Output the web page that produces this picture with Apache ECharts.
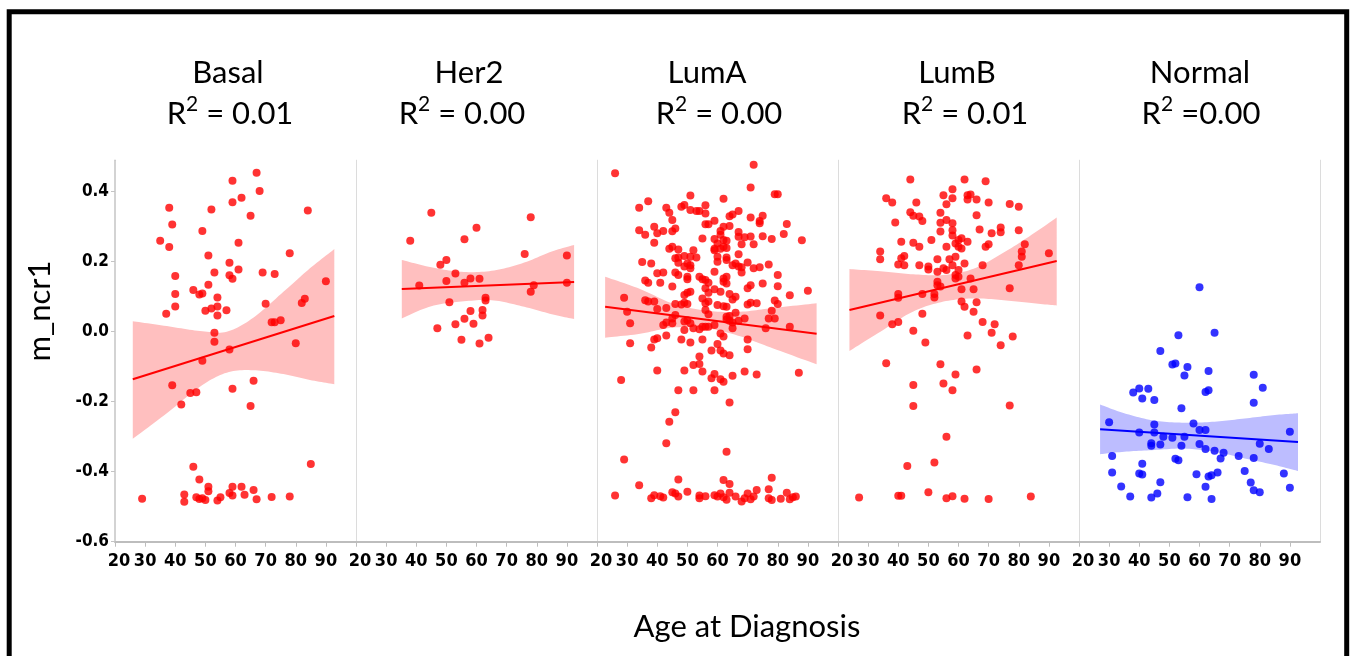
<!DOCTYPE html>
<html>
<head>
<meta charset="utf-8">
<script src="https://cdn.jsdelivr.net/npm/echarts@6/dist/echarts.min.js"></script>
<style>
  html, body { margin: 0; padding: 0; background: #ffffff; }
  #chart { width: 1353px; height: 656px; }
</style>
</head>
<body>
<div id="chart"></div>
<script>
// ---- m_ncr1 vs. age at diagnosis, one panel per PAM50 subtype ----

const subtypes = ['Basal', 'Her2', 'LumA', 'LumB', 'Normal'];
const rSquaredText = ['= 0.01', '= 0.00', '= 0.00', '= 0.01', '=0.00'];
const yTickValues = [-0.6, -0.4, -0.2, 0.0, 0.2, 0.4];

// [age, m_ncr1]
const basalPoints = [
  [67,0.454],[59,0.431],[62,0.383],[59,0.370],[68,0.402],[38,0.354],[52,0.349],[65,0.331],[84,0.346],
  [39,0.306],[49,0.288],[35,0.260],[38,0.242],[61,0.254],[51,0.218],[78,0.224],[58,0.197],[61,0.178],
  [53,0.169],[69,0.169],[73,0.165],[40,0.159],[58,0.161],[59,0.151],[90,0.144],[51,0.134],[46,0.119],
  [48,0.106],[49,0.109],[40,0.108],[54,0.098],[40,0.072],[54,0.072],[52,0.066],[50,0.060],[57,0.061],
  [54,0.046],[37,0.051],[70,0.080],[83,0.094],[82,0.082],[75,0.033],[72,0.027],[73,0.027],[53,-0.003],
  [53,-0.029],[80,-0.033],[58,-0.051],[49,-0.083],[39,-0.153],[66,-0.140],[59,-0.163],[45,-0.175],
  [47,-0.173],[42,-0.208],[65,-0.212],[46,-0.386],[85,-0.378],[48,-0.422],[51,-0.443],[51,-0.456],
  [59,-0.443],[62,-0.443],[66,-0.452],[43,-0.465],[63,-0.466],[58,-0.461],[59,-0.468],[29,-0.477],
  [43,-0.486],[47,-0.473],[48,-0.478],[49,-0.476],[50,-0.481],[54,-0.482],[55,-0.473],[67,-0.479],
  [72,-0.472],[78,-0.471]
];
const her2Points = [
  [45,0.340],[78,0.327],[38,0.260],[60,0.297],[56,0.264],[76,0.222],[90,0.218],[48,0.191],[50,0.205],
  [53,0.166],[58,0.152],[61,0.151],[50,0.145],[56,0.140],[41,0.132],[79,0.133],[78,0.114],[90,0.140],
  [63,0.097],[63,0.089],[51,0.084],[58,0.059],[62,0.062],[62,0.046],[56,0.037],[59,0.023],[53,0.021],
  [47,0.010],[55,-0.023],[64,-0.017],[61,-0.034]
];
const lumAPoints = [
  [72,0.477],[26,0.453],[71,0.412],[79,0.393],[80,0.393],[51,0.389],[62,0.380],[37,0.373],[34,0.354],
  [43,0.354],[48,0.357],[49,0.362],[56,0.361],[51,0.348],[53,0.345],[54,0.345],[44,0.340],[56,0.338],
  [65,0.335],[64,0.330],[67,0.345],[75,0.331],[74,0.316],[71,0.326],[45,0.319],[59,0.317],[74,0.310],
  [83,0.308],[56,0.307],[57,0.307],[39,0.300],[46,0.295],[62,0.300],[64,0.302],[34,0.290],[36,0.277],
  [40,0.281],[42,0.288],[45,0.287],[61,0.288],[61,0.277],[67,0.285],[67,0.271],[69,0.270],[71,0.272],
  [75,0.273],[78,0.265],[82,0.279],[88,0.261],[55,0.266],[59,0.265],[62,0.262],[63,0.260],[60,0.252],
  [59,0.233],[39,0.254],[68,0.250],[72,0.250],[62,0.243],[63,0.239],[44,0.237],[45,0.243],[47,0.235],
  [52,0.233],[59,0.237],[61,0.237],[67,0.221],[51,0.214],[53,0.212],[46,0.210],[47,0.212],[49,0.216],
  [60,0.214],[60,0.200],[63,0.212],[63,0.205],[35,0.199],[38,0.195],[50,0.195],[51,0.190],[47,0.197],
  [70,0.198],[65,0.190],[66,0.195],[67,0.186],[68,0.184],[72,0.181],[74,0.184],[77,0.192],[49,0.186],
  [51,0.181],[46,0.169],[47,0.162],[40,0.167],[42,0.169],[50,0.157],[50,0.150],[54,0.157],[55,0.150],
  [59,0.171],[62,0.152],[63,0.157],[68,0.169],[80,0.162],[36,0.146],[37,0.140],[41,0.140],[56,0.148],
  [57,0.140],[62,0.143],[63,0.138],[75,0.138],[80,0.130],[45,0.129],[59,0.121],[56,0.124],[71,0.133],
  [70,0.124],[50,0.111],[51,0.114],[49,0.105],[57,0.111],[61,0.114],[64,0.108],[66,0.100],[65,0.092],
  [84,0.104],[90,0.117],[29,0.097],[36,0.090],[37,0.086],[39,0.086],[49,0.083],[50,0.079],[46,0.079],
  [48,0.078],[55,0.095],[57,0.086],[56,0.081],[60,0.076],[62,0.073],[63,0.071],[70,0.078],[71,0.083],
  [73,0.081],[79,0.089],[80,0.079],[30,0.057],[40,0.065],[43,0.068],[56,0.062],[57,0.050],[63,0.043],
  [64,0.045],[63,0.035],[66,0.054],[69,0.038],[78,0.060],[77,0.038],[79,0.038],[46,0.048],[45,0.038],
  [50,0.033],[49,0.029],[31,0.024],[42,0.019],[43,0.026],[45,0.024],[51,0.024],[55,0.014],[57,0.014],
  [56,0.014],[59,0.019],[64,0.031],[65,0.026],[67,0.031],[65,0.010],[84,0.014],[76,0.010],[49,0.005],
  [52,0.010],[54,0.007],[43,-0.011],[61,-0.005],[62,-0.014],[39,-0.022],[40,-0.019],[48,-0.022],
  [55,-0.022],[70,-0.022],[70,-0.050],[31,-0.033],[51,-0.031],[38,-0.045],[60,-0.035],[58,-0.054],
  [61,-0.054],[62,-0.062],[64,-0.067],[54,-0.071],[52,-0.095],[54,-0.092],[55,-0.114],[49,-0.111],
  [40,-0.111],[59,-0.121],[58,-0.133],[61,-0.136],[62,-0.143],[65,-0.126],[69,-0.114],[73,-0.122],
  [87,-0.117],[28,-0.138],[47,-0.167],[52,-0.167],[59,-0.167],[64,-0.202],[46,-0.230],[44,-0.257],
  [43,-0.319],[63,-0.343],[29,-0.365],[47,-0.422],[62,-0.424],[64,-0.435],[78,-0.417],[34,-0.439],
  [26,-0.468],[38,-0.476],[39,-0.467],[41,-0.470],[42,-0.474],[45,-0.459],[46,-0.462],[47,-0.471],
  [50,-0.457],[54,-0.468],[54,-0.476],[56,-0.470],[59,-0.467],[60,-0.471],[61,-0.462],[62,-0.473],
  [63,-0.480],[64,-0.460],[66,-0.471],[68,-0.485],[69,-0.476],[70,-0.462],[71,-0.479],[72,-0.471],
  [73,-0.452],[77,-0.450],[77,-0.476],[78,-0.481],[81,-0.477],[83,-0.460],[84,-0.479],[85,-0.473],
  [86,-0.471]
];
const lumBPoints = [
  [44,0.435],[62,0.435],[69,0.430],[58,0.407],[55,0.390],[63,0.390],[64,0.392],[63,0.378],[36,0.381],
  [58,0.381],[66,0.378],[38,0.369],[46,0.369],[70,0.369],[77,0.365],[80,0.357],[56,0.364],[44,0.341],
  [45,0.331],[54,0.340],[47,0.329],[48,0.316],[66,0.333],[56,0.319],[39,0.312],[54,0.311],[58,0.310],
  [58,0.290],[58,0.275],[74,0.298],[74,0.284],[67,0.292],[54,0.286],[80,0.290],[71,0.281],[61,0.267],
  [60,0.262],[51,0.262],[41,0.257],[45,0.254],[63,0.257],[59,0.252],[60,0.243],[61,0.238],[47,0.243],
  [56,0.243],[70,0.250],[69,0.243],[82,0.250],[34,0.229],[34,0.207],[81,0.229],[81,0.214],[90,0.224],
  [42,0.216],[41,0.210],[59,0.214],[53,0.207],[57,0.207],[58,0.190],[40,0.192],[42,0.190],[47,0.190],
  [62,0.195],[50,0.186],[50,0.178],[80,0.190],[68,0.190],[55,0.181],[56,0.176],[53,0.171],[60,0.176],
  [59,0.162],[59,0.152],[64,0.152],[60,0.157],[53,0.143],[53,0.133],[54,0.129],[61,0.121],[65,0.121],
  [77,0.124],[48,0.108],[40,0.108],[40,0.097],[52,0.108],[52,0.098],[61,0.086],[62,0.071],[66,0.084],
  [65,0.057],[34,0.046],[48,0.051],[68,0.028],[72,0.021],[38,0.021],[40,0.028],[71,-0.003],[45,0.003],
  [63,-0.011],[78,-0.014],[74,-0.039],[49,-0.031],[36,-0.090],[54,-0.093],[66,-0.108],[59,-0.122],
  [55,-0.148],[45,-0.152],[58,-0.167],[45,-0.212],[77,-0.211],[56,-0.300],[43,-0.384],[52,-0.374],
  [50,-0.459],[27,-0.474],[40,-0.469],[41,-0.469],[56,-0.476],[58,-0.470],[62,-0.477],[70,-0.478],
  [84,-0.471]
];
const normalPoints = [
  [60,0.127],[65,-0.003],[53,-0.010],[47,-0.055],[51,-0.094],[52,-0.091],[56,-0.101],[55,-0.125],
  [63,-0.112],[78,-0.123],[81,-0.160],[78,-0.203],[38,-0.174],[40,-0.162],[43,-0.163],[41,-0.191],
  [45,-0.195],[62,-0.172],[63,-0.167],[54,-0.219],[30,-0.259],[45,-0.265],[58,-0.262],[40,-0.288],
  [45,-0.288],[60,-0.281],[62,-0.281],[90,-0.286],[48,-0.300],[51,-0.303],[55,-0.300],[54,-0.326],
  [44,-0.319],[44,-0.326],[47,-0.322],[60,-0.321],[62,-0.335],[65,-0.340],[68,-0.346],[67,-0.362],
  [73,-0.355],[80,-0.320],[83,-0.335],[78,-0.361],[31,-0.355],[52,-0.363],[53,-0.367],[41,-0.377],
  [31,-0.402],[40,-0.405],[41,-0.408],[59,-0.407],[63,-0.414],[64,-0.410],[66,-0.402],[75,-0.398],
  [88,-0.405],[47,-0.430],[77,-0.431],[34,-0.442],[62,-0.443],[78,-0.453],[80,-0.459],[46,-0.462],
  [37,-0.471],[44,-0.474],[56,-0.473],[64,-0.478],[90,-0.446]
];

// Fitted lines (end points) and 95% confidence bands
const basalFit  = [[25.9,-0.136],[92.8,0.045]];
const her2Fit   = [[35.2,0.122],[92.4,0.142]];
const lumAFit   = [[22.7,0.071],[92.9,-0.006]];
const lumBFit   = [[23.8,0.062],[92.6,0.202]];
const normalFit = [[27.0,-0.279],[92.7,-0.315]];

const basalBandAge   = [25.9, 37.2, 48.2, 57.1, 65.9, 75.9, 84.7, 92.8];
const basalBandUpper = [0.030, 0.016, 0.002, 0.000, 0.040, 0.114, 0.181, 0.236];
const basalBandLower = [-0.306, -0.233, -0.157, -0.117, -0.110, -0.121, -0.138, -0.150];

const her2BandAge   = [35.2, 45, 55, 65, 75, 85, 92.4];
const her2BandUpper = [0.205, 0.184, 0.171, 0.174, 0.195, 0.229, 0.248];
const her2BandLower = [0.038, 0.073, 0.086, 0.090, 0.073, 0.050, 0.036];

const lumABandAge   = [22.7, 34.3, 45.3, 56.4, 67.5, 78.5, 92.9];
const lumABandUpper = [0.157, 0.122, 0.080, 0.060, 0.057, 0.068, 0.081];
const lumABandLower = [-0.017, -0.006, 0.012, 0.010, -0.013, -0.048, -0.093];

const lumBBandAge   = [23.8, 35, 45, 55, 65, 75, 85, 92.6];
const lumBBandUpper = [0.179, 0.172, 0.164, 0.162, 0.180, 0.226, 0.281, 0.326];
const lumBBandLower = [-0.055, 0.005, 0.058, 0.086, 0.095, 0.090, 0.081, 0.075];

const normalBandAge   = [27, 35, 45, 55, 65, 75, 85, 92.7];
const normalBandUpper = [-0.208, -0.233, -0.254, -0.260, -0.257, -0.248, -0.238, -0.233];
const normalBandLower = [-0.350, -0.343, -0.338, -0.334, -0.343, -0.362, -0.381, -0.398];

// ---- panel assembly ----
const RED = '#ff0000', RED_FILL = '#ffbfbf';
const BLUE = '#0000ff', BLUE_FILL = '#bdbdff';

const panels = [
  { points: basalPoints,  fit: basalFit,  age: basalBandAge,  up: basalBandUpper,  lo: basalBandLower,  color: RED,  fill: RED_FILL },
  { points: her2Points,   fit: her2Fit,   age: her2BandAge,   up: her2BandUpper,   lo: her2BandLower,   color: RED,  fill: RED_FILL },
  { points: lumAPoints,   fit: lumAFit,   age: lumABandAge,   up: lumABandUpper,   lo: lumABandLower,   color: RED,  fill: RED_FILL },
  { points: lumBPoints,   fit: lumBFit,   age: lumBBandAge,   up: lumBBandUpper,   lo: lumBBandLower,   color: RED,  fill: RED_FILL },
  { points: normalPoints, fit: normalFit, age: normalBandAge, up: normalBandUpper, lo: normalBandLower, color: BLUE, fill: BLUE_FILL }
];

const Y_MIN = -0.6, Y_MAX = 0.49;
const GRID_LEFT = 115, GRID_W = 241, GRID_TOP = 160.2, GRID_H = 381.5;
// horizontal centres of the two title lines of each panel
const titleCentres = [[228, 230], [469, 462], [707, 719], [957, 965], [1200, 1201]];

const TITLE_FONT = 'Lato, "Open Sans", sans-serif';
const XTICK_FONT = '"Liberation Sans Narrow", "DejaVu Sans Condensed", sans-serif';
const YTICK_FONT = '"DejaVu Sans Condensed", "Liberation Sans Narrow", sans-serif';

// Smooth pixel outline (Catmull-Rom) through the projected band edge points
function smoothOutline(pts, steps) {
  const out = [];
  const n = pts.length;
  for (let k = 0; k < n - 1; k++) {
    const p0 = pts[Math.max(k - 1, 0)], p1 = pts[k], p2 = pts[k + 1], p3 = pts[Math.min(k + 2, n - 1)];
    for (let s = 0; s < steps; s++) {
      const t = s / steps, t2 = t * t, t3 = t2 * t;
      const f = (a, b, c, d) => 0.5 * ((2 * b) + (-a + c) * t + (2 * a - 5 * b + 4 * c - d) * t2 + (-a + 3 * b - 3 * c + d) * t3);
      out.push([f(p0[0], p1[0], p2[0], p3[0]), f(p0[1], p1[1], p2[1], p3[1])]);
    }
  }
  out.push(pts[n - 1]);
  return out;
}

const grids = [], xAxes = [], yAxes = [], series = [], graphics = [];

panels.forEach((p, i) => {
  grids.push({ left: GRID_LEFT + GRID_W * i, top: GRID_TOP, width: GRID_W, height: GRID_H, containLabel: false });

  xAxes.push({
    gridIndex: i, type: 'value', min: 20, max: 100, interval: 10,
    axisLine: { show: true, onZero: false, lineStyle: { color: '#bdbdbd', width: 2 } },
    axisTick: { show: true, length: 5, lineStyle: { color: '#bdbdbd', width: 1 } },
    splitLine: { show: false },
    axisLabel: {
      showMaxLabel: false, margin: 11, color: '#000',
      fontFamily: XTICK_FONT, fontWeight: 'bold', fontSize: 18,
      formatter: v => (v === 20 ? '{first|20}' : String(v)),
      rich: { first: { fontFamily: XTICK_FONT, fontWeight: 'bold', fontSize: 18, color: '#000', padding: [0, 0, 0, 8] } }
    }
  });

  yAxes.push({
    gridIndex: i, type: 'value', min: Y_MIN, max: Y_MAX,
    axisLine: { show: true, onZero: false, lineStyle: { color: i === 0 ? '#c4c4c4' : '#dcdcdc', width: i === 0 ? 1.5 : 1 } },
    axisTick: { show: i === 0, length: 4, customValues: yTickValues, lineStyle: { color: '#c4c4c4' } },
    splitLine: { show: false },
    axisLabel: {
      show: i === 0, customValues: yTickValues, margin: 6, color: '#000',
      fontFamily: YTICK_FONT, fontWeight: 'bold', fontSize: 17,
      formatter: v => v.toFixed(1)
    }
  });

  // 95% confidence band: one filled outline, upper edge then lower edge back
  const bandRows = p.age.map((a, k) => [a, p.up[k], p.lo[k]]);
  series.push({
    type: 'custom', coordinateSystem: 'cartesian2d', xAxisIndex: i, yAxisIndex: i,
    data: bandRows, encode: { x: 0, y: [1, 2] }, silent: true, z: 1,
    renderItem: (params, api) => {
      if (params.dataIndex !== 0) return null;
      const upper = smoothOutline(bandRows.map(r => api.coord([r[0], r[1]])), 12);
      const lower = smoothOutline(bandRows.map(r => api.coord([r[0], r[2]])), 12).reverse();
      return { type: 'polygon', shape: { points: upper.concat(lower) }, style: { fill: p.fill } };
    }
  });
  series.push({
    type: 'scatter', xAxisIndex: i, yAxisIndex: i, data: p.points,
    symbol: 'circle', symbolSize: 8, z: 3,
    itemStyle: { color: p.color }
  });
  series.push({
    type: 'line', xAxisIndex: i, yAxisIndex: i, data: p.fit,
    symbol: 'none', silent: true, z: 4,
    lineStyle: { color: p.color, width: 2 }
  });

  graphics.push({
    type: 'text', x: titleCentres[i][0], y: 73, silent: true,
    style: { text: subtypes[i], align: 'center', verticalAlign: 'middle', fill: '#000', font: '31px ' + TITLE_FONT }
  });
  graphics.push({
    type: 'text', x: titleCentres[i][1], y: 114, silent: true,
    style: {
      text: '{m|R}{s|2}{m| ' + rSquaredText[i] + '}', align: 'center', verticalAlign: 'middle',
      rich: {
        m: { fontFamily: TITLE_FONT, fontSize: 31, lineHeight: 40, fill: '#000' },
        s: { fontFamily: TITLE_FONT, fontSize: 21, lineHeight: 21, verticalAlign: 'top', fill: '#000' }
      }
    }
  });
});

// right-hand border of the last panel
yAxes.push({
  gridIndex: 4, type: 'value', min: Y_MIN, max: Y_MAX, position: 'right',
  axisLine: { show: true, onZero: false, lineStyle: { color: '#dcdcdc', width: 1 } },
  axisTick: { show: false }, axisLabel: { show: false }, splitLine: { show: false }
});

// axis titles and outer frame
graphics.push({
  type: 'text', x: 40, y: 311, rotation: Math.PI / 2, silent: true,
  style: { text: 'm_ncr1', align: 'center', verticalAlign: 'middle', fill: '#000', font: '31px ' + TITLE_FONT }
});
graphics.push({
  type: 'text', x: 747, y: 627, silent: true,
  style: { text: 'Age at Diagnosis', align: 'center', verticalAlign: 'middle', fill: '#000', font: '31px ' + TITLE_FONT }
});
graphics.push({
  type: 'rect', silent: true, z: 100,
  shape: { x: 9.2, y: 11.7, width: 1337.5, height: 700 },
  style: { fill: 'none', stroke: '#000', lineWidth: 5 }
});

const chart = echarts.init(document.getElementById('chart'), null, { renderer: 'canvas' });
chart.setOption({
  animation: false,
  backgroundColor: '#ffffff',
  grid: grids,
  xAxis: xAxes,
  yAxis: yAxes,
  series: series,
  graphic: graphics
});
</script>
</body>
</html>
